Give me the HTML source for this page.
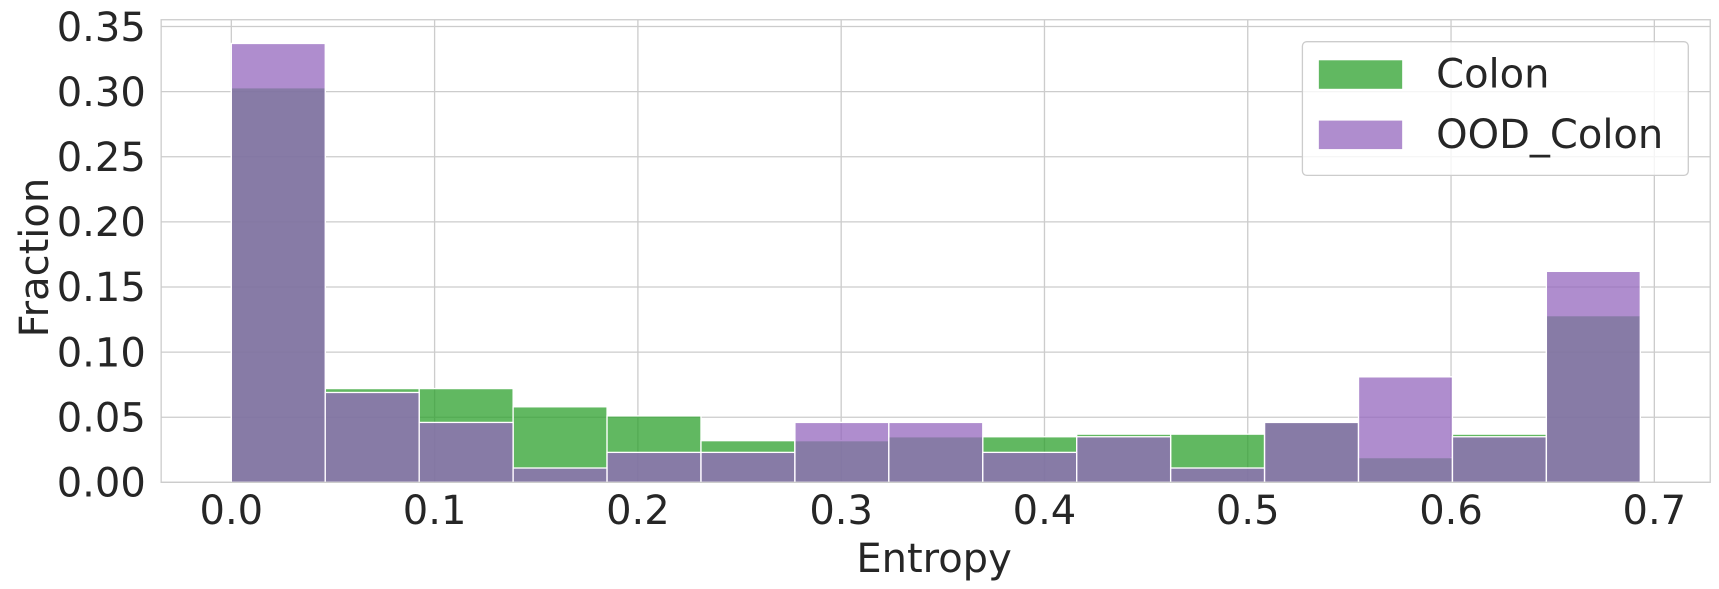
<!DOCTYPE html>
<html><head><meta charset="utf-8"><style>
html,body{margin:0;padding:0;background:#fff;}
svg{display:block;font-family:"DejaVu Sans","Liberation Sans",sans-serif;}
</style></head><body>
<svg id="chart" width="1719" height="589" viewBox="0 0 1568 537.3" preserveAspectRatio="none">
<g id="grid"></g><g id="bars"></g><g id="ticks"></g>
<rect x="147" y="18" width="1413" height="422" fill="none" stroke="#cccccc" stroke-width="1.2"/>
<text x="852" y="522" font-size="36.5" fill="#262626" text-anchor="middle">Entropy</text>
<text transform="translate(44,235) rotate(-90)" font-size="36.5" fill="#262626" text-anchor="middle">Fraction</text>
<g>
<rect x="1188" y="38" width="352" height="122" rx="4" fill="#fff" fill-opacity="0.8" stroke="#cccccc" stroke-width="1.2"/>
<rect x="1203" y="55" width="76" height="26" fill="#2ca02c" fill-opacity="0.75"/>
<text x="1310" y="80" font-size="36.5" fill="#262626">Colon</text>
<rect x="1203" y="110" width="76" height="26" fill="#9467bd" fill-opacity="0.75"/>
<text x="1310" y="135" font-size="36.5" fill="#262626">OOD_Colon</text>
</g>
</svg>
<script>
const colonVals=[0.303,0.072,0.072,0.058,0.051,0.032,0.032,0.035,0.035,0.037,0.037,0.046,0.019,0.037,0.128];
const oodVals=[0.337,0.069,0.046,0.011,0.023,0.023,0.046,0.046,0.023,0.035,0.011,0.046,0.081,0.035,0.162];
const xTicks=[0,0.1,0.2,0.3,0.4,0.5,0.6,0.7];
const yTicks=[0,0.05,0.1,0.15,0.2,0.25,0.3,0.35];
const binMax=0.6931;
const NS="http://www.w3.org/2000/svg";
const xs=v=>211+v*1854.3;
const ys=v=>440-v*1188;
const grid=document.getElementById('grid'),bars=document.getElementById('bars'),ticks=document.getElementById('ticks');
function mk(tag,attrs,parent){const e=document.createElementNS(NS,tag);for(const k in attrs)e.setAttribute(k,attrs[k]);parent.appendChild(e);return e;}
xTicks.forEach(t=>{
 const l=mk('line',{x1:xs(t),x2:xs(t),y1:18,y2:440,stroke:'#cccccc','stroke-width':1.2},grid);
 
 
 const tx=mk('text',{x:xs(t),y:478,'font-size':36.5,fill:'#262626','text-anchor':'middle'},ticks);
 tx.textContent=t.toFixed(1);
 
 
});
yTicks.forEach(t=>{
 const l=mk('line',{x1:147,x2:1560,y1:ys(t),y2:ys(t),stroke:'#cccccc','stroke-width':1.2},grid);
 
 
 const tx=mk('text',{x:133,y:ys(t)+13,'font-size':36.5,fill:'#262626','text-anchor':'end'},ticks);
 tx.textContent=t.toFixed(2);
 
 
});
function drawSeries(vals,color,name){
 const w=binMax/vals.length;
 vals.forEach((v,i)=>{
  const x0=xs(i*w),x1=xs((i+1)*w);
  const r=mk('rect',{x:x0,y:ys(v),width:x1-x0,height:ys(0)-ys(v),fill:color,'fill-opacity':0.75,stroke:'#fff','stroke-width':1.2},bars);
  
  
 });
}
drawSeries(colonVals,'#2ca02c','colon');
drawSeries(oodVals,'#9467bd','ood-colon');
</script>
</body></html>
